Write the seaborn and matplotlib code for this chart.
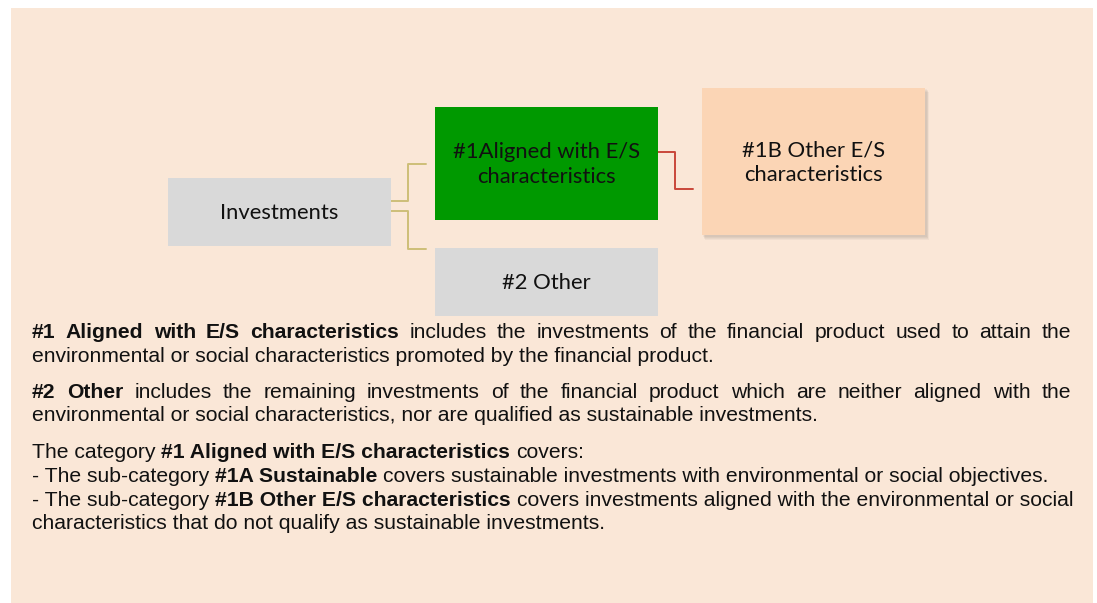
import matplotlib.pyplot as plt
import seaborn as sns
from matplotlib.patches import Rectangle

# box labels and fill colours
box_labels = ["Investments", "#1Aligned with E/S\ncharacteristics", "#2 Other", "#1B Other E/S\ncharacteristics"]
box_colors = ["#D9D9D9", "#009900", "#D9D9D9", "#FBD5B5"]

# explanatory text: each line is a list of (text, bold) runs and a justify flag
text_lines = [
    ([("#1 Aligned with E/S characteristics", True),
      ("includes the investments of the financial product used to attain the", False)], True),
    ([("environmental or social characteristics promoted by the financial product.", False)], False),
    ([("#2 Other", True),
      ("includes the remaining investments of the financial product which are neither aligned with the", False)], True),
    ([("environmental or social characteristics, nor are qualified as sustainable investments.", False)], False),
    ([("The category", False), ("#1 Aligned with E/S characteristics", True), ("covers:", False)], False),
    ([("- The sub-category", False), ("#1A Sustainable", True),
      ("covers sustainable investments with environmental or social objectives.", False)], False),
    ([("- The sub-category", False), ("#1B Other E/S characteristics", True),
      ("covers investments aligned with the environmental or social", False)], False),
    ([("characteristics that do not qualify as sustainable investments.", False)], False),
]

sns.set_theme(style="white")
plt.rcParams['font.family'] = ['Liberation Sans', 'DejaVu Sans']

W, H = 1097, 603
fig = plt.figure(figsize=(W / 100, H / 100), dpi=100)
ax = fig.add_axes([0, 0, 1, 1])
ax.set_xlim(0, W)
ax.set_ylim(H, 0)
ax.axis("off")
fig.patch.set_facecolor("white")

# beige panel
ax.add_patch(Rectangle((11, 8), 1082, 600, facecolor="#FAE7D7", edgecolor="none", zorder=0))

# boxes (x, y, w, h)
boxes = [(168, 178, 223, 68), (435, 107, 223, 113), (435, 248, 223, 68), (702, 88, 223, 147)]

# soft shadow for the #1B box
bx, by, bw, bh = boxes[3]
for i in range(4):
    ax.add_patch(Rectangle((bx + 1 + i * 0.7, by + 1 + i), bw + 1, bh + 1,
                           facecolor="black", alpha=0.035, edgecolor="none", zorder=1))

for (x, y, w, h), lab, col in zip(boxes, box_labels, box_colors):
    ax.add_patch(Rectangle((x, y), w, h, facecolor=col, edgecolor="none", zorder=2))
    ax.text(x + w / 2, y + h / 2 + 1, lab, ha="center", va="center", fontsize=15.8,
            family=["Lato", "DejaVu Sans"], color="#111111", linespacing=1.3, zorder=3)

# connectors
tan = "#CDBE78"
ax.plot([391, 408, 408, 426], [201, 201, 164, 164], color=tan, lw=1.4, zorder=1)
ax.plot([391, 408, 408, 426], [211, 211, 249, 249], color=tan, lw=1.4, zorder=1)
ax.plot([658, 675, 675, 693], [152, 152, 189, 189], color="#C9473A", lw=1.4, zorder=1)

# body text; justified lines are placed word by word to reach the right margin
fs = 15.2
left, right = 32, 1071
baselines = [338, 362, 398, 421, 458, 482, 506, 529]
renderer = fig.canvas.get_renderer()
space = 0.278 * fs * 100 / 72

for (runs, justify), yb in zip(text_lines, baselines):
    if justify:
        pieces = [(wd, bold) for txt, bold in runs for wd in txt.split(" ")]
    else:
        pieces = runs
    artists, widths = [], []
    for txt, bold in pieces:
        t = ax.text(0, yb, txt, fontsize=fs, fontweight="bold" if bold else "normal",
                    color="#111111", ha="left", va="baseline")
        artists.append(t)
        widths.append(t.get_window_extent(renderer).width)
    gap = space
    if justify:
        gap = (right - left - sum(widths)) / (len(pieces) - 1)
    x = left
    for t, w in zip(artists, widths):
        t.set_x(x)
        x += w + gap

fig.savefig("out.png", dpi=100, facecolor="white")
